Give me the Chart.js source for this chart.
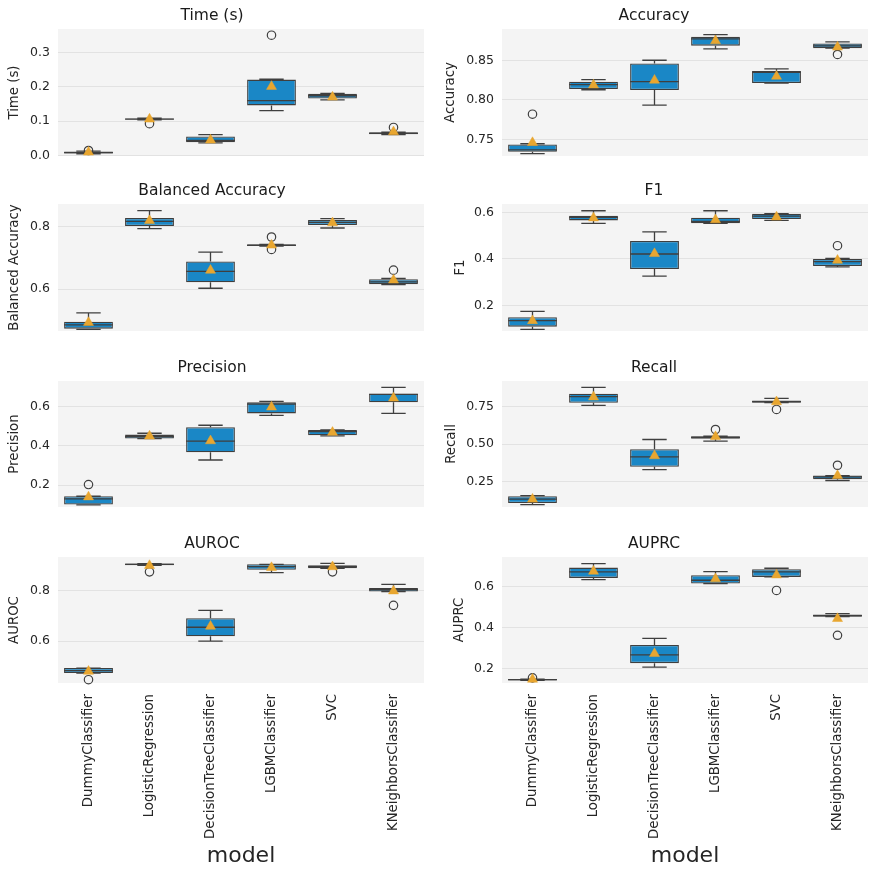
<!DOCTYPE html>
<html><head><meta charset="utf-8">
<script src="https://cdn.jsdelivr.net/npm/chart.js@4/dist/chart.umd.min.js"></script>
<style>
html,body{margin:0;padding:0;background:#fff;}
body{width:878px;height:877px;position:relative;overflow:hidden;}
canvas{position:absolute;}
</style></head><body>
<script>
// ---------- DATA ----------
const models = ["DummyClassifier","LogisticRegression","DecisionTreeClassifier","LGBMClassifier","SVC","KNeighborsClassifier"];

// Time (s)
const time_lo   = [0.005, 0.104, 0.037, 0.131, 0.162, 0.061];
const time_q1   = [0.006, 0.105, 0.039, 0.146, 0.166, 0.062];
const time_med  = [0.009, 0.106, 0.044, 0.160, 0.174, 0.065];
const time_q3   = [0.012, 0.108, 0.056, 0.221, 0.180, 0.068];
const time_hi   = [0.013, 0.109, 0.061, 0.222, 0.181, 0.068];
const time_mean = [0.010, 0.106, 0.045, 0.201, 0.170, 0.069];
const time_out  = [[0,0.015],[1,0.093],[3,0.350],[5,0.082]];
const time_ticks = ["0.0","0.1","0.2","0.3"];

// Accuracy
const acc_lo   = [0.732, 0.813, 0.7934, 0.8649, 0.8215, 0.8657];
const acc_q1   = [0.7343, 0.8138, 0.8126, 0.8689, 0.8215, 0.8657];
const acc_med  = [0.7368, 0.8194, 0.8232, 0.8774, 0.8351, 0.8687];
const acc_q3   = [0.7436, 0.8232, 0.8462, 0.8802, 0.8368, 0.8717];
const acc_hi   = [0.7445, 0.8257, 0.8504, 0.8828, 0.8394, 0.8738];
const acc_mean = [0.746, 0.819, 0.825, 0.875, 0.830, 0.867];
const acc_out  = [[0,0.782],[5,0.8577]];
const acc_ticks = ["0.75","0.80","0.85"];

// Balanced Accuracy
const bal_lo   = [0.4723, 0.7926, 0.603, 0.7372, 0.7947, 0.615];
const bal_q1   = [0.4745, 0.801, 0.6223, 0.7372, 0.804, 0.616];
const bal_med  = [0.4862, 0.816, 0.6564, 0.7394, 0.8128, 0.6234];
const bal_q3   = [0.4968, 0.8266, 0.6883, 0.7426, 0.8202, 0.6319];
const bal_hi   = [0.5245, 0.850, 0.718, 0.7426, 0.8245, 0.634];
const bal_mean = [0.494, 0.818, 0.660, 0.740, 0.811, 0.629];
const bal_out  = [[3,0.766],[3,0.7266],[5,0.6606]];
const bal_ticks = ["0.6","0.8"];

// F1
const f1_lo   = [0.0982, 0.5527, 0.3269, 0.553, 0.5656, 0.366];
const f1_q1   = [0.1097, 0.5656, 0.357, 0.553, 0.5713, 0.370];
const f1_med  = [0.1355, 0.5785, 0.4215, 0.561, 0.584, 0.389];
const f1_q3   = [0.1498, 0.5857, 0.4774, 0.577, 0.5943, 0.400];
const f1_hi   = [0.1756, 0.607, 0.516, 0.607, 0.5943, 0.403];
const f1_mean = [0.135, 0.576, 0.423, 0.568, 0.580, 0.394];
const f1_out  = [[5,0.457]];
const f1_ticks = ["0.2","0.4","0.6"];

// Precision
const prec_lo   = [0.100, 0.437, 0.3285, 0.5557, 0.451, 0.566];
const prec_q1   = [0.1013, 0.4374, 0.3677, 0.566, 0.4545, 0.6221];
const prec_med  = [0.130, 0.4477, 0.4247, 0.6136, 0.4732, 0.663];
const prec_q3   = [0.1438, 0.4579, 0.4953, 0.6221, 0.4817, 0.6664];
const prec_hi   = [0.1438, 0.4647, 0.5055, 0.627, 0.4817, 0.6987];
const prec_mean = [0.140, 0.450, 0.426, 0.598, 0.469, 0.644];
const prec_out  = [[0,0.2034]];
const prec_ticks = ["0.2","0.4","0.6"];

// Recall
const rec_lo   = [0.096, 0.759, 0.330, 0.520, 0.777, 0.257];
const rec_q1   = [0.107, 0.777, 0.3482, 0.5357, 0.777, 0.2656];
const rec_med  = [0.132, 0.817, 0.415, 0.545, 0.784, 0.281];
const rec_q3   = [0.152, 0.837, 0.4665, 0.5536, 0.792, 0.290];
const rec_hi   = [0.156, 0.879, 0.531, 0.5536, 0.806, 0.290];
const rec_mean = [0.132, 0.815, 0.422, 0.550, 0.783, 0.290];
const rec_out  = [[3,0.598],[4,0.732],[5,0.359]];
const rec_ticks = ["0.25","0.50","0.75"];

// AUROC
const roc_lo   = [0.4737, 0.901, 0.600, 0.872, 0.889, 0.797];
const roc_q1   = [0.4737, 0.901, 0.6197, 0.883, 0.889, 0.797];
const roc_med  = [0.4829, 0.905, 0.6553, 0.896, 0.896, 0.805];
const roc_q3   = [0.4934, 0.908, 0.6908, 0.905, 0.901, 0.8105];
const roc_hi   = [0.4934, 0.908, 0.722, 0.905, 0.909, 0.825];
const roc_mean = [0.480, 0.900, 0.659, 0.892, 0.895, 0.799];
const roc_out  = [[0,0.447],[1,0.875],[4,0.875],[5,0.742]];
const roc_ticks = ["0.6","0.8"];

// AUPRC
const prc_lo   = [0.1435, 0.634, 0.208, 0.6145, 0.6468, 0.4532];
const prc_q1   = [0.1435, 0.6419, 0.2274, 0.6145, 0.6468, 0.4532];
const prc_med  = [0.147, 0.671, 0.2677, 0.6306, 0.671, 0.459];
const prc_q3   = [0.150, 0.6919, 0.3161, 0.6548, 0.6839, 0.4645];
const prc_hi   = [0.150, 0.711, 0.348, 0.6726, 0.6887, 0.468];
const prc_mean = [0.149, 0.674, 0.274, 0.637, 0.656, 0.444];
const prc_out  = [[0,0.156],[4,0.581],[5,0.363]];
const prc_ticks = ["0.2","0.4","0.6"];

// axis ranges [min, max]
const time_range = [-0.001, 0.368];
const acc_range  = [0.729, 0.890];
const bal_range  = [0.467, 0.871];
const f1_range   = [0.091, 0.636];
const prec_range = [0.089, 0.731];
const rec_range  = [0.080, 0.922];
const roc_range  = [0.434, 0.934];
const prc_range  = [0.131, 0.7435];

// ---------- BUILD ----------
const panels = [
  {title:"Time (s)", lo:time_lo, q1:time_q1, med:time_med, q3:time_q3, hi:time_hi, mean:time_mean, out:time_out, ticks:time_ticks, range:time_range},
  {title:"Accuracy", lo:acc_lo, q1:acc_q1, med:acc_med, q3:acc_q3, hi:acc_hi, mean:acc_mean, out:acc_out, ticks:acc_ticks, range:acc_range},
  {title:"Balanced Accuracy", lo:bal_lo, q1:bal_q1, med:bal_med, q3:bal_q3, hi:bal_hi, mean:bal_mean, out:bal_out, ticks:bal_ticks, range:bal_range},
  {title:"F1", lo:f1_lo, q1:f1_q1, med:f1_med, q3:f1_q3, hi:f1_hi, mean:f1_mean, out:f1_out, ticks:f1_ticks, range:f1_range},
  {title:"Precision", lo:prec_lo, q1:prec_q1, med:prec_med, q3:prec_q3, hi:prec_hi, mean:prec_mean, out:prec_out, ticks:prec_ticks, range:prec_range},
  {title:"Recall", lo:rec_lo, q1:rec_q1, med:rec_med, q3:rec_q3, hi:rec_hi, mean:rec_mean, out:rec_out, ticks:rec_ticks, range:rec_range},
  {title:"AUROC", lo:roc_lo, q1:roc_q1, med:roc_med, q3:roc_q3, hi:roc_hi, mean:roc_mean, out:roc_out, ticks:roc_ticks, range:roc_range},
  {title:"AUPRC", lo:prc_lo, q1:prc_q1, med:prc_med, q3:prc_q3, hi:prc_hi, mean:prc_mean, out:prc_out, ticks:prc_ticks, range:prc_range}
];

Chart.defaults.font.family = "'DejaVu Sans', sans-serif";
Chart.defaults.color = '#262626';

const EDGE = '#3f3f3f';
const BOX = '#1a87c6';
const MEAN = '#e8a630';
const PLOTBG = '#f4f4f4';
const GRID = '#e2e2e2';

const colLeft = [0, 440], colWidth = [424, 428], yAxisW = [58, 62];
const rowTop = [1, 176, 353, 529], rowH = [155, 155, 154, 348];
const extraBottom = [9, 9, 9, 0];
const ylabPad = [7, 2.7, 7, 12.7, 7, 4, 7, 11.7];

function makePlugin(p) {
  return {
    id: 'boxExtras',
    beforeDraw(chart) {
      const a = chart.chartArea, ctx = chart.ctx;
      ctx.save(); ctx.fillStyle = PLOTBG;
      ctx.fillRect(a.left, a.top, a.right - a.left, a.bottom - a.top);
      ctx.restore();
    },
    afterDatasetDraw(chart, args) {
      if (args.index !== 0) return;
      const ctx = chart.ctx, ys = chart.scales.y;
      const meta = chart.getDatasetMeta(0);
      ctx.save();
      ctx.strokeStyle = EDGE; ctx.lineWidth = 1.3; ctx.lineCap = 'butt';
      meta.data.forEach((el, i) => {
        const x = el.x, w = el.width;
        const yq1 = ys.getPixelForValue(p.q1[i]), yq3 = ys.getPixelForValue(p.q3[i]);
        const ylo = ys.getPixelForValue(p.lo[i]), yhi = ys.getPixelForValue(p.hi[i]);
        const ym = ys.getPixelForValue(p.med[i]);
        ctx.beginPath();
        ctx.moveTo(x, yq3); ctx.lineTo(x, yhi);
        ctx.moveTo(x - w/4, yhi); ctx.lineTo(x + w/4, yhi);
        ctx.moveTo(x, yq1); ctx.lineTo(x, ylo);
        ctx.moveTo(x - w/4, ylo); ctx.lineTo(x + w/4, ylo);
        ctx.moveTo(x - w/2, ym); ctx.lineTo(x + w/2, ym);
        ctx.stroke();
      });
      ctx.restore();
    }
  };
}

panels.forEach((p, k) => {
  const col = k % 2, row = Math.floor(k / 2);
  const bottom = row === 3;
  const cv = document.createElement('canvas');
  cv.width = colWidth[col]; cv.height = rowH[row] + extraBottom[row];
  cv.style.left = colLeft[col] + 'px'; cv.style.top = rowTop[row] + 'px';
  document.body.appendChild(cv);

  const tickVals = p.ticks.map(Number);
  new Chart(cv, {
    type: 'bar',
    data: {
      labels: models,
      datasets: [
        { type: 'bar', data: models.map((m, i) => [p.q1[i], p.q3[i]]),
          backgroundColor: BOX, borderColor: EDGE, borderWidth: 1.3, borderSkipped: false,
          categoryPercentage: 0.8, barPercentage: 1.0, order: 3 },
        { type: 'scatter', data: p.out.map(o => ({x: models[o[0]], y: o[1]})),
          pointStyle: 'circle', pointRadius: 4.2, backgroundColor: 'rgba(0,0,0,0)',
          borderColor: EDGE, borderWidth: 1.2, order: 2, clip: false },
        { type: 'scatter', data: models.map((m, i) => ({x: m, y: p.mean[i]})),
          pointStyle: 'triangle', pointRadius: 5.8, backgroundColor: MEAN,
          borderColor: MEAN, borderWidth: 0.5, order: 1, clip: false }
      ]
    },
    options: {
      responsive: false, animation: false,
      layout: { padding: { left: 0, right: 0, top: 0, bottom: extraBottom[row] }, autoPadding: false },
      plugins: {
        legend: { display: false }, tooltip: { enabled: false },
        title: { display: true, text: p.title, color: '#1a1a1a',
          font: { size: 15.5, weight: 'normal' }, padding: { top: 5.4, bottom: 4 } }
      },
      scales: {
        x: {
          type: 'category', offset: true,
          grid: { display: false, drawTicks: false }, border: { display: false },
          ticks: { display: bottom, minRotation: 90, maxRotation: 90, autoSkip: false,
            font: { size: 13.3 }, padding: 11 },
          title: { display: bottom, text: 'model', font: { size: 22 }, padding: { top: 0, bottom: 8 } },
          afterFit: s => { s.height = bottom ? 194 : 0; s.paddingLeft = 0; s.paddingRight = 0; s.paddingTop = 0; s.paddingBottom = 0; }
        },
        y: {
          min: p.range[0], max: p.range[1],
          afterBuildTicks: s => { s.ticks = tickVals.map(v => ({ value: v })); },
          ticks: { callback: (v, i) => p.ticks[i], font: { size: 12.5 }, padding: 8 },
          grid: { color: GRID, lineWidth: 1, drawTicks: false }, border: { display: false },
          title: { display: true, text: p.title, font: { size: 13.3 }, padding: { top: ylabPad[k], bottom: 0 } },
          afterFit: s => { s.width = yAxisW[col]; s.paddingTop = 0; s.paddingBottom = 0; s.paddingLeft = 0; s.paddingRight = 0; }
        }
      }
    },
    plugins: [makePlugin(p)]
  });
});
</script>
</body></html>
